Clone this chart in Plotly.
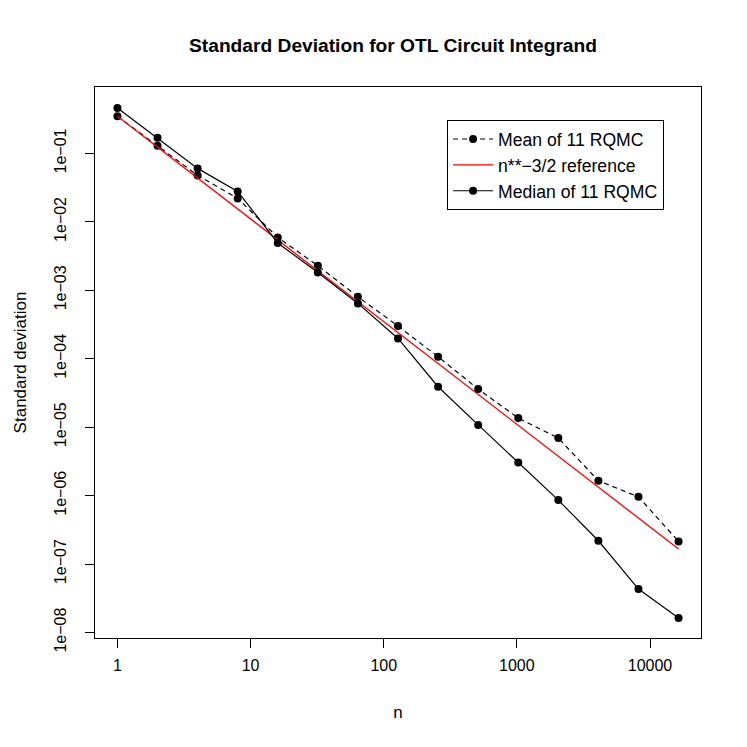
import plotly.graph_objects as go

# sample sizes and standard deviations
n = [1, 2, 4, 8, 16, 32, 64, 128, 256, 512, 1024, 2048, 4096, 8192, 16384]
mean_sd = [0.348, 0.1296, 0.0477, 0.0220, 0.00592, 0.00229, 8.05e-4, 3.0e-4,
           1.07e-4, 3.6e-5, 1.36e-5, 6.93e-6, 1.65e-6, 9.6e-7, 2.14e-7]
median_sd = [0.460, 0.169, 0.0604, 0.0278, 0.00491, 0.00182, 6.43e-4, 1.98e-4,
             3.90e-5, 1.08e-5, 3.05e-6, 8.6e-7, 2.19e-7, 4.31e-8, 1.63e-8]
ref_n = [1, 16384]
ref_sd = [0.348, 1.66e-7]

x_ticks = [1, 10, 100, 1000, 10000]
x_labels = ["1", "10", "100", "1000", "10000"]
y_ticks = [1e-1, 1e-2, 1e-3, 1e-4, 1e-5, 1e-6, 1e-7, 1e-8]
y_labels = ["1e\u221201", "1e\u221202", "1e\u221203", "1e\u221204",
            "1e\u221205", "1e\u221206", "1e\u221207", "1e\u221208"]

font = "Liberation Sans, Arial, Helvetica, sans-serif"

fig = go.Figure()
fig.add_trace(go.Scatter(x=n, y=mean_sd, mode="lines+markers", name="Mean of 11 RQMC",
                         line=dict(color="black", width=1.2, dash="5px,4px"),
                         marker=dict(color="black", size=8)))
fig.add_trace(go.Scatter(x=ref_n, y=ref_sd, mode="lines", name="n**\u22123/2 reference",
                         line=dict(color="red", width=1.3)))
fig.add_trace(go.Scatter(x=n, y=median_sd, mode="lines+markers", name="Median of 11 RQMC",
                         line=dict(color="black", width=1.2),
                         marker=dict(color="black", size=8)))

fig.update_xaxes(type="log", range=[-0.1686, 4.383], tickmode="array",
                 tickvals=x_ticks, ticktext=x_labels,
                 ticks="outside", ticklen=9, tickcolor="black",
                 showline=True, mirror=True, linecolor="black", linewidth=1,
                 showgrid=False, zeroline=False, ticklabelstandoff=4,
                 title=dict(text="n", standoff=32, font=dict(size=17)))
fig.update_yaxes(type="log", range=[-8.08, -0.03], tickmode="array",
                 tickvals=y_ticks, ticktext=y_labels, tickangle=-90,
                 ticks="outside", ticklen=9, tickcolor="black",
                 showline=True, mirror=True, linecolor="black", linewidth=1,
                 showgrid=False, zeroline=False, ticklabelstandoff=13,
                 title=dict(text="Standard deviation", standoff=20, font=dict(size=17)))

# the page body adds an 8px offset, so the figure is drawn 8px smaller
fig.update_layout(
    width=739, height=739,
    margin=dict(l=79, r=46, t=79, b=109),
    paper_bgcolor="white", plot_bgcolor="white",
    font=dict(family=font, size=16, color="black"),
    title=dict(text="<b>Standard Deviation for OTL Circuit Integrand</b>",
               x=0.521, xanchor="center", y=0.95, yanchor="middle",
               font=dict(size=19.2)),
    legend=dict(x=0.581, y=0.94, xanchor="left", yanchor="top",
                bordercolor="black", borderwidth=1, bgcolor="white",
                font=dict(size=17.6), tracegroupgap=0, itemwidth=40),
    showlegend=True,
)

fig.write_html("out.html")
